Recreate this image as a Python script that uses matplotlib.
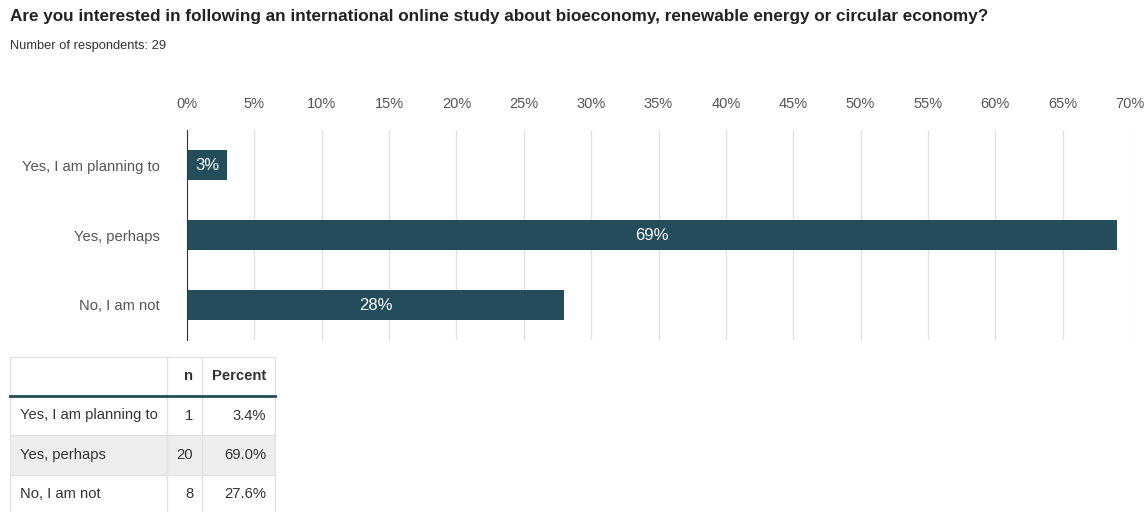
import matplotlib.pyplot as plt
from matplotlib.patches import Rectangle
import numpy as np

plt.rcParams['font.family'] = ['Liberation Sans', 'DejaVu Sans']

title = "Are you interested in following an international online study about bioeconomy, renewable energy or circular economy?"
categories = ["Yes, I am planning to", "Yes, perhaps", "No, I am not"]
counts = [1, 20, 8]
total = sum(counts)
percents = [100 * c / total for c in counts]
bar_values = [round(p) for p in percents]
ticks = list(range(0, 75, 5))

bar_color = "#244d5b"
text_grey = "#555555"
grid_grey = "#e3e3e3"

W, H = 1147, 512
fig = plt.figure(figsize=(W / 100, H / 100), dpi=100)

# capa de fondo en coordenadas de pixel para titulo y tabla
bg = fig.add_axes([0, 0, 1, 1])
bg.set_xlim(0, W)
bg.set_ylim(H, 0)
bg.axis("off")

bg.text(10, 17, title, fontsize=12.3, fontweight="bold", color="#222222", va="center", ha="left")
bg.text(10, 46, f"Number of respondents: {total}", fontsize=9.3, color="#333333", va="center", ha="left")

# grafico de barras
ax = fig.add_axes([187 / W, 1 - 340 / H, (1130 - 187) / W, 210 / H])
y = np.arange(len(categories))
ax.barh(y, bar_values, height=0.43, color=bar_color, zorder=3)
ax.set_xlim(0, 70)
ax.set_ylim(2.5, -0.5)
ax.set_xticks(ticks)
ax.set_xticklabels([f"{t}%" for t in ticks], fontsize=10.5, color=text_grey)
ax.xaxis.tick_top()
ax.tick_params(axis="x", length=0, pad=13.5)
ax.set_yticks(y)
ax.set_yticklabels(categories, fontsize=10.6, color=text_grey)
ax.tick_params(axis="y", length=0, pad=19.5)
ax.grid(axis="x", color=grid_grey, linewidth=1, zorder=0)
for s in ["top", "right", "bottom"]:
    ax.spines[s].set_visible(False)
ax.spines["left"].set_color("#333333")
ax.spines["left"].set_zorder(4)

for yi, v in zip(y, bar_values):
    ax.text(v / 2, yi, f"{v}%", color="white", fontsize=12, ha="center", va="center", zorder=5)

# tabla de frecuencias
col_x = [10, 167, 202, 275]
row_y = [357, 396, 435, 475, 514]
line_c = "#e2e2e2"
bg.add_patch(Rectangle((col_x[0], row_y[2]), col_x[3] - col_x[0], row_y[3] - row_y[2],
                       facecolor="#eeeeee", edgecolor="none"))
for xv in col_x:
    bg.plot([xv, xv], [row_y[0], row_y[-1]], color=line_c, lw=1)
for yv in row_y[2:]:
    bg.plot([col_x[0], col_x[3]], [yv, yv], color=line_c, lw=1)
bg.plot([col_x[0], col_x[3]], [row_y[0], row_y[0]], color=line_c, lw=1)
bg.plot([col_x[0], col_x[3]], [row_y[1], row_y[1]], color=bar_color, lw=2)

fs = 10.6
hy = (row_y[0] + row_y[1]) / 2
bg.text(col_x[2] - 9, hy, "n", fontsize=fs, fontweight="bold", color="#333333", ha="right", va="center")
bg.text(col_x[3] - 9, hy, "Percent", fontsize=fs, fontweight="bold", color="#333333", ha="right", va="center")
for i, (cat, n, p) in enumerate(zip(categories, counts, percents)):
    cy = (row_y[i + 1] + row_y[i + 2]) / 2
    bg.text(col_x[0] + 10, cy, cat, fontsize=fs, color="#333333", ha="left", va="center")
    bg.text(col_x[2] - 9, cy, str(n), fontsize=fs, color="#333333", ha="right", va="center")
    bg.text(col_x[3] - 9, cy, f"{p:.1f}%", fontsize=fs, color="#333333", ha="right", va="center")

fig.savefig("out.png", dpi=100)
